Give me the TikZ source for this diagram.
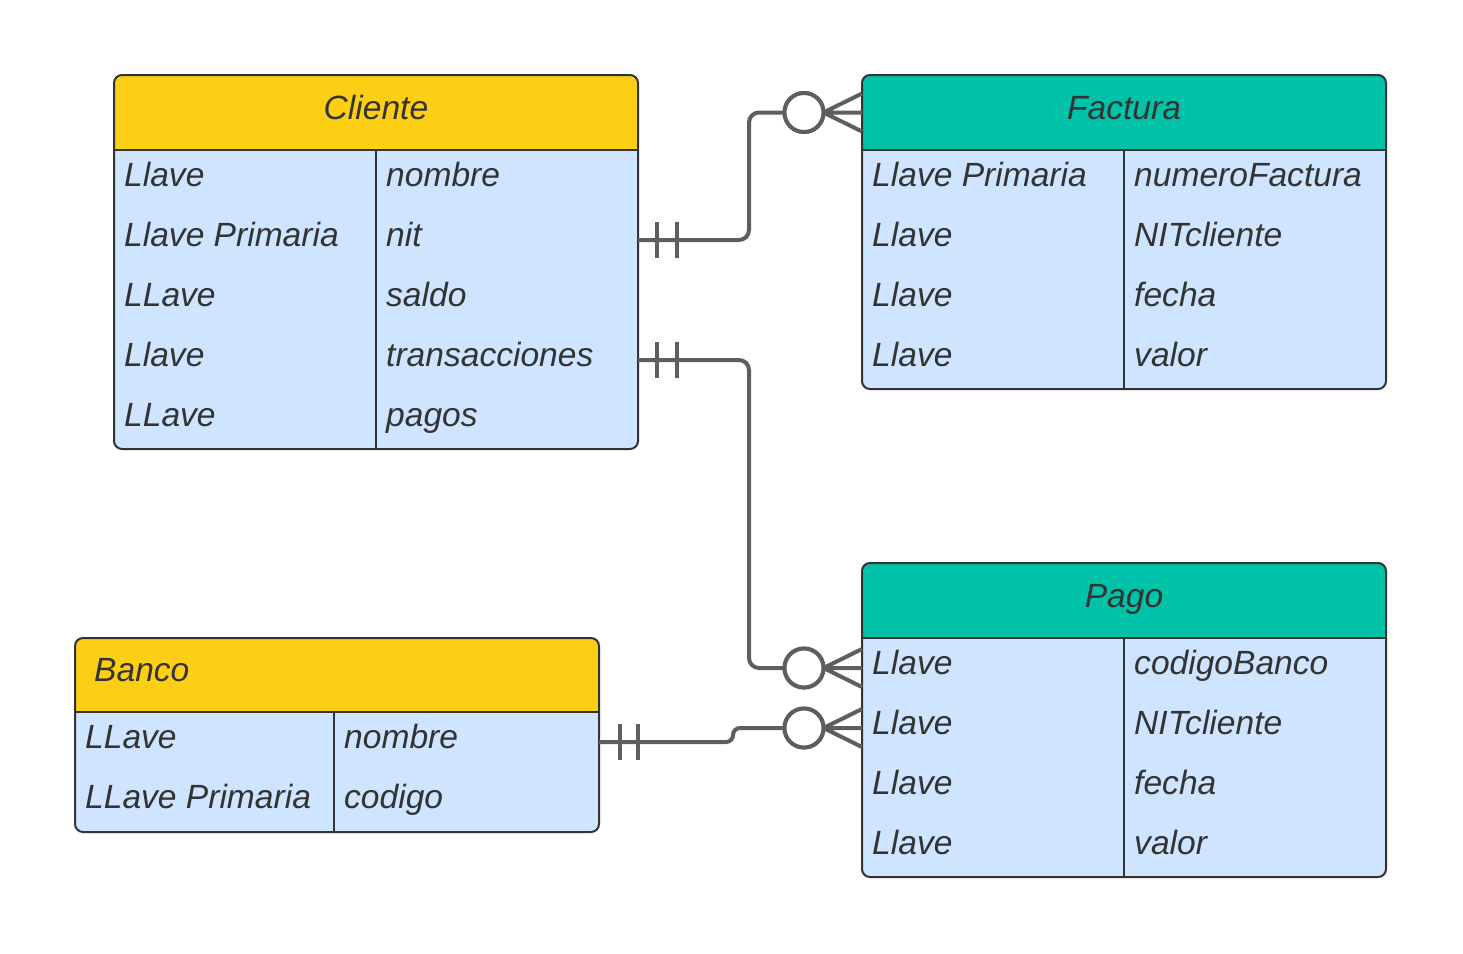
\documentclass[tikz,border=0pt]{standalone}
\usepackage{fontspec}
\setmainfont{Liberation Sans}
\usetikzlibrary{positioning}
\definecolor{headColorA}{HTML}{FCCE14}
\definecolor{headColorB}{HTML}{00C2A8}
\definecolor{bodyColor}{HTML}{CFE4FF}
\definecolor{frameColor}{HTML}{333333}
\definecolor{textColor}{HTML}{333333}
\definecolor{linkColor}{HTML}{5E5E5E}
\tikzset{
  cell/.style={anchor=base west, inner sep=0pt, text=textColor,
    font=\fontsize{33.7}{40}\selectfont\itshape},
  title/.style={cell, anchor=base},
  rowbox/.style={inner sep=0pt, outer sep=0pt, minimum width=524bp, minimum height=60bp},
  headbox/.style={rowbox, minimum height=75bp},
  frame/.style={draw=frameColor, line width=2bp},
  link/.style={draw=linkColor, line width=4bp},
  zero/.style={circle, link, fill=white, inner sep=0pt, outer sep=0pt, minimum size=39bp},
}

\begin{document}
\begin{tikzpicture}[x=1bp,y=-1bp]
\useasboundingbox (0,0) rectangle (1463,953);

% Cliente table
\begin{scope}[shift={(114,75)}]
\begin{scope}
\clip[rounded corners=8bp] (0,0) rectangle (524,374);
\fill[bodyColor] (0,0) rectangle (524,374);
\fill[headColorA] (0,0) rectangle (524,75);
\end{scope}
\draw[frame] (0,75) -- (524,75);
\draw[frame] (262,75) -- (262,374);
\draw[frame, rounded corners=8bp] (0,0) rectangle (524,374);
\node[headbox] (cliHead) at (262,37.5) {};
\node[title] (cliTitle) at (262,44.3) {Cliente};
\node[rowbox] (cliRowA) at (262,105) {};
\node[rowbox] (cliRowB) at (262,165) {};
\node[rowbox] (cliRowC) at (262,225) {};
\node[rowbox] (cliRowD) at (262,285) {};
\node[rowbox] (cliRowE) at (262,345) {};
\node[cell] (cliKeyA) at (10,111.7) {Llave};
\node[cell] (cliKeyB) at (10,171.7) {Llave Primaria};
\node[cell] (cliKeyC) at (10,231.7) {LLave};
\node[cell] (cliKeyD) at (10,291.7) {Llave};
\node[cell] (cliKeyE) at (10,351.7) {LLave};
\node[cell] (cliAttrA) at (272,111.7) {nombre};
\node[cell] (cliAttrB) at (272,171.7) {nit};
\node[cell] (cliAttrC) at (272,231.7) {saldo};
\node[cell] (cliAttrD) at (272,291.7) {transacciones};
\node[cell] (cliAttrE) at (272,351.7) {pagos};
\end{scope}

% Factura table
\begin{scope}[shift={(862,75)}]
\begin{scope}
\clip[rounded corners=8bp] (0,0) rectangle (524,314);
\fill[bodyColor] (0,0) rectangle (524,314);
\fill[headColorB] (0,0) rectangle (524,75);
\end{scope}
\draw[frame] (0,75) -- (524,75);
\draw[frame] (262,75) -- (262,314);
\draw[frame, rounded corners=8bp] (0,0) rectangle (524,314);
\node[headbox] (facHead) at (262,37.5) {};
\node[title] (facTitle) at (262,44.3) {Factura};
\node[cell] (facKeyA) at (10,111.7) {Llave Primaria};
\node[cell] (facKeyB) at (10,171.7) {Llave};
\node[cell] (facKeyC) at (10,231.7) {Llave};
\node[cell] (facKeyD) at (10,291.7) {Llave};
\node[cell] (facAttrA) at (272,111.7) {numeroFactura};
\node[cell] (facAttrB) at (272,171.7) {NITcliente};
\node[cell] (facAttrC) at (272,231.7) {fecha};
\node[cell] (facAttrD) at (272,291.7) {valor};
\end{scope}

% Pago table
\begin{scope}[shift={(862,563)}]
\begin{scope}
\clip[rounded corners=8bp] (0,0) rectangle (524,314);
\fill[bodyColor] (0,0) rectangle (524,314);
\fill[headColorB] (0,0) rectangle (524,75);
\end{scope}
\draw[frame] (0,75) -- (524,75);
\draw[frame] (262,75) -- (262,314);
\draw[frame, rounded corners=8bp] (0,0) rectangle (524,314);
\node[headbox] (pagHead) at (262,37.5) {};
\node[title] (pagTitle) at (262,44.3) {Pago};
\node[rowbox] (pagRowA) at (262,105) {};
\node[rowbox] (pagRowB) at (262,165) {};
\node[cell] (pagKeyA) at (10,111.7) {Llave};
\node[cell] (pagKeyB) at (10,171.7) {Llave};
\node[cell] (pagKeyC) at (10,231.7) {Llave};
\node[cell] (pagKeyD) at (10,291.7) {Llave};
\node[cell] (pagAttrA) at (272,111.7) {codigoBanco};
\node[cell] (pagAttrB) at (272,171.7) {NITcliente};
\node[cell] (pagAttrC) at (272,231.7) {fecha};
\node[cell] (pagAttrD) at (272,291.7) {valor};
\end{scope}

% Banco table
\begin{scope}[shift={(75,638)}]
\begin{scope}
\clip[rounded corners=8bp] (0,0) rectangle (524,194);
\fill[bodyColor] (0,0) rectangle (524,194);
\fill[headColorA] (0,0) rectangle (524,74);
\end{scope}
\draw[frame] (0,74) -- (524,74);
\draw[frame] (259,74) -- (259,194);
\draw[frame, rounded corners=8bp] (0,0) rectangle (524,194);
\node[headbox] (banHead) at (262,37) {};
\node[cell] (banTitle) at (19,43.5) {Banco};
\node[rowbox] (banRowA) at (262,104) {};
\node[rowbox] (banRowB) at (262,164) {};
\node[cell] (banKeyA) at (10,110.5) {LLave};
\node[cell] (banKeyB) at (10,170.5) {LLave Primaria};
\node[cell] (banAttrA) at (269,110.5) {nombre};
\node[cell] (banAttrB) at (269,170.5) {codigo};
\end{scope}

% links
\coordinate (jogA) at (749,0);
\coordinate (jogB) at (733,0);
\node[zero, left=38.5bp of facHead.west] (facZero) {};
\node[zero, left=38.5bp of pagRowA.west] (pagZeroA) {};
\node[zero, left=38.5bp of pagRowB.west] (pagZeroB) {};

\draw[link, rounded corners=10bp] (cliRowB.east) -- (cliRowB.east -| jogA)
  -- (jogA |- facZero.west) -- (facZero.west);
\draw[link, rounded corners=10bp] (cliRowD.east) -- (cliRowD.east -| jogA)
  -- (jogA |- pagZeroA.west) -- (pagZeroA.west);
\draw[link, rounded corners=7bp] (banRowA.east) -- (banRowA.east -| jogB)
  -- (jogB |- pagZeroB.west) -- (pagZeroB.west);

% one-and-only-one bars
\draw[link] ([xshift=19bp,yshift=18bp]cliRowB.east) -- ([xshift=19bp,yshift=-18bp]cliRowB.east);
\draw[link] ([xshift=39bp,yshift=18bp]cliRowB.east) -- ([xshift=39bp,yshift=-18bp]cliRowB.east);
\draw[link] ([xshift=19bp,yshift=18bp]cliRowD.east) -- ([xshift=19bp,yshift=-18bp]cliRowD.east);
\draw[link] ([xshift=39bp,yshift=18bp]cliRowD.east) -- ([xshift=39bp,yshift=-18bp]cliRowD.east);
\draw[link] ([xshift=21bp,yshift=18bp]banRowA.east) -- ([xshift=21bp,yshift=-18bp]banRowA.east);
\draw[link] ([xshift=39bp,yshift=18bp]banRowA.east) -- ([xshift=39bp,yshift=-18bp]banRowA.east);

% zero-or-many feet
\draw[link] (facZero.east) -- ([yshift=19bp]facHead.west)
  (facZero.east) -- (facHead.west)
  (facZero.east) -- ([yshift=-19bp]facHead.west);
\draw[link] (pagZeroA.east) -- ([yshift=19bp]pagRowA.west)
  (pagZeroA.east) -- (pagRowA.west)
  (pagZeroA.east) -- ([yshift=-19bp]pagRowA.west);
\draw[link] (pagZeroB.east) -- ([yshift=19bp]pagRowB.west)
  (pagZeroB.east) -- (pagRowB.west)
  (pagZeroB.east) -- ([yshift=-19bp]pagRowB.west);
\node[zero] at (facZero) {};
\node[zero] at (pagZeroA) {};
\node[zero] at (pagZeroB) {};
\end{tikzpicture}
\end{document}
